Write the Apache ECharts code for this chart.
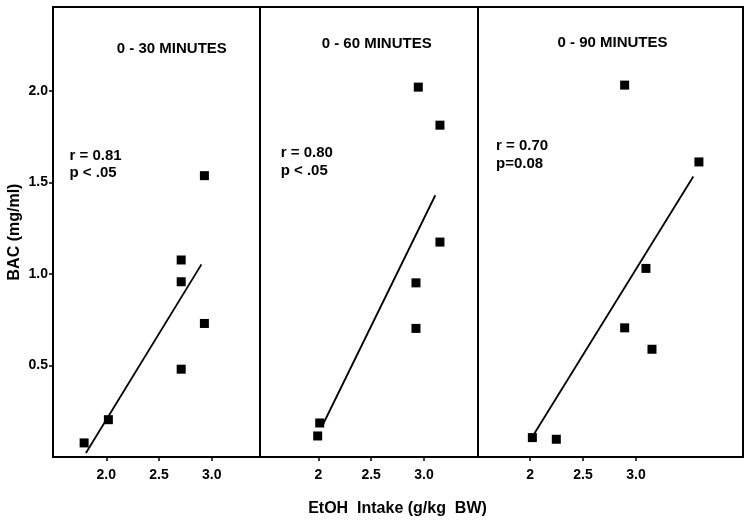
<!DOCTYPE html>
<html>
<head>
<meta charset="utf-8">
<script src="https://cdn.jsdelivr.net/npm/echarts@6/dist/echarts.min.js"></script>
<style>
html,body{margin:0;padding:0;background:#fff;}
#chart{width:751px;height:525px;}
</style>
</head>
<body>
<div id="chart"></div>
<script>
// ---- data ----
const panelTitles = ["0 - 30 MINUTES", "0 - 60 MINUTES", "0 - 90 MINUTES"];
const statLines = [["r = 0.81", "p < .05"], ["r = 0.80", "p < .05"], ["r = 0.70", "p=0.08"]];

const intake30 = [1.79, 2.02, 2.71, 2.71, 2.71, 2.93, 2.93];
const bac30    = [0.077, 0.204, 1.077, 0.958, 0.48, 1.538, 0.73];
const fit30X   = [1.807, 2.902];
const fit30Y   = [0.022, 1.053];

const intake60 = [2.946, 3.151, 3.151, 2.924, 2.924, 2.013, 1.994];
const bac60    = [2.022, 1.814, 1.175, 0.952, 0.703, 0.186, 0.115];
const fit60X   = [2.032, 3.107];
const fit60Y   = [0.164, 1.431];

const intake90 = [2.893, 3.594, 3.094, 2.893, 3.151, 2.022, 2.248];
const bac90    = [2.033, 1.613, 1.031, 0.706, 0.589, 0.106, 0.097];
const fit90X   = [2.041, 3.541];
const fit90Y   = [0.128, 1.533];

const xTickValues = [2, 2.5, 3];
const xTickLabels = [["2.0", "2.5", "3.0"], ["2", "2.5", "3.0"], ["2", "2.5", "3.0"]];
const yTickValues = [0.5, 1, 1.5, 2];
const yTickLabels = ["0.5", "1.0", "1.5", "2.0"];
const yAxisName = "BAC (mg/ml)";
const xAxisName = "EtOH  Intake (g/kg  BW)";

// ---- layout ----
const FONT = "'Liberation Sans', Arial, sans-serif";
const grids = [
  {left: 53,  top: 7, width: 207, height: 450},
  {left: 260, top: 7, width: 218, height: 450},
  {left: 478, top: 7, width: 265, height: 450}
];
const xRanges = [[1.495, 3.457], [1.448, 3.511], [1.509, 4.01]];

const pointsSets = [
  intake30.map((x, i) => [x, bac30[i]]),
  intake60.map((x, i) => [x, bac60[i]]),
  intake90.map((x, i) => [x, bac90[i]])
];
const fitSets = [
  fit30X.map((x, i) => [x, fit30Y[i]]),
  fit60X.map((x, i) => [x, fit60Y[i]]),
  fit90X.map((x, i) => [x, fit90Y[i]])
];

const option = {
  backgroundColor: '#fff',
  animation: false,
  grid: grids.map(g => Object.assign({show: true, borderColor: '#000', borderWidth: 2, backgroundColor: 'transparent'}, g)),
  xAxis: grids.map((g, i) => ({
    type: 'value', gridIndex: i,
    min: xRanges[i][0], max: xRanges[i][1],
    splitLine: {show: false},
    axisLine: {show: false},
    axisTick: {show: true, length: 4, lineStyle: {color: '#000', width: 1.5}, customValues: xTickValues},
    axisLabel: {
      show: true, margin: 11, customValues: xTickValues,
      color: '#000', fontFamily: FONT, fontWeight: 'bold', fontSize: 14,
      formatter: v => xTickLabels[i][xTickValues.indexOf(v)] || ''
    }
  })),
  yAxis: grids.map((g, i) => ({
    type: 'value', gridIndex: i,
    min: 0, max: 2.46,
    splitLine: {show: false},
    axisLine: {show: false},
    name: i === 0 ? yAxisName : '',
    nameLocation: 'middle', nameGap: 30,
    nameTextStyle: {color: '#000', fontFamily: FONT, fontWeight: 'bold', fontSize: 16},
    axisTick: {show: i === 0, length: 4, lineStyle: {color: '#000', width: 1.5}, customValues: yTickValues},
    axisLabel: {
      show: i === 0, margin: 5, customValues: yTickValues,
      color: '#000', fontFamily: FONT, fontWeight: 'bold', fontSize: 14,
      formatter: v => yTickLabels[yTickValues.indexOf(v)] || ''
    }
  })),
  series: [].concat(
    pointsSets.map((pts, i) => ({
      type: 'scatter', xAxisIndex: i, yAxisIndex: i,
      symbol: 'rect', symbolSize: 9,
      itemStyle: {color: '#000', opacity: 1},
      data: pts, z: 3
    })),
    fitSets.map((pts, i) => ({
      type: 'line', xAxisIndex: i, yAxisIndex: i,
      showSymbol: false, symbol: 'none',
      lineStyle: {color: '#000', width: 1.8},
      data: pts, z: 2
    }))
  ),
  graphic: [
    {type: 'text', x: 171.8, y: 48.5, style: {text: panelTitles[0], textAlign: 'center', textVerticalAlign: 'middle', font: 'bold 15px ' + FONT, fill: '#000'}},
    {type: 'text', x: 376.7, y: 44, style: {text: panelTitles[1], textAlign: 'center', textVerticalAlign: 'middle', font: 'bold 15px ' + FONT, fill: '#000'}},
    {type: 'text', x: 612.5, y: 42.5, style: {text: panelTitles[2], textAlign: 'center', textVerticalAlign: 'middle', font: 'bold 15px ' + FONT, fill: '#000'}},

    {type: 'text', x: 69.5, y: 155.5, style: {text: statLines[0][0], textAlign: 'left', textVerticalAlign: 'middle', font: 'bold 15px ' + FONT, fill: '#000'}},
    {type: 'text', x: 69.5, y: 172.5, style: {text: statLines[0][1], textAlign: 'left', textVerticalAlign: 'middle', font: 'bold 15px ' + FONT, fill: '#000'}},
    {type: 'text', x: 280.7, y: 153, style: {text: statLines[1][0], textAlign: 'left', textVerticalAlign: 'middle', font: 'bold 15px ' + FONT, fill: '#000'}},
    {type: 'text', x: 280.7, y: 171, style: {text: statLines[1][1], textAlign: 'left', textVerticalAlign: 'middle', font: 'bold 15px ' + FONT, fill: '#000'}},
    {type: 'text', x: 496, y: 146, style: {text: statLines[2][0], textAlign: 'left', textVerticalAlign: 'middle', font: 'bold 15px ' + FONT, fill: '#000'}},
    {type: 'text', x: 496, y: 163.5, style: {text: statLines[2][1], textAlign: 'left', textVerticalAlign: 'middle', font: 'bold 15px ' + FONT, fill: '#000'}},

    {type: 'text', x: 397.5, y: 509, style: {text: xAxisName, textAlign: 'center', textVerticalAlign: 'middle', font: 'bold 16px ' + FONT, fill: '#000'}}
  ]
};

const chart = echarts.init(document.getElementById('chart'), null, {renderer: 'canvas'});
chart.setOption(option);
</script>
</body>
</html>
